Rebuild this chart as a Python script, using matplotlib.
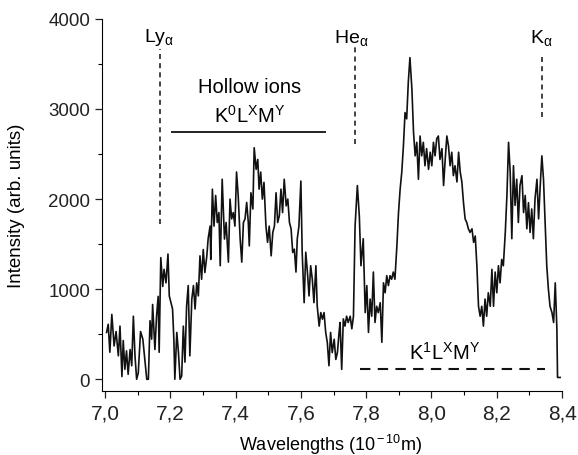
import matplotlib
matplotlib.use("Agg")
import matplotlib.pyplot as plt
from matplotlib.ticker import MultipleLocator, FuncFormatter

plt.rcParams["font.family"] = ["Liberation Sans", "DejaVu Sans"]
plt.rcParams["mathtext.fontset"] = "custom"
plt.rcParams["mathtext.rm"] = "Liberation Sans"
plt.rcParams["mathtext.it"] = "Liberation Sans:italic"

# measured spectrum: wavelength (1e-10 m) and intensity (arb. units)
wavelength = [
    7.005, 7.010, 7.015, 7.021, 7.028, 7.034, 7.041, 7.046, 7.052, 7.056,
    7.061, 7.066, 7.071, 7.077, 7.082, 7.087, 7.092, 7.097, 7.102, 7.109,
    7.116, 7.120, 7.128, 7.133, 7.138, 7.143, 7.146, 7.153, 7.158, 7.163,
    7.166, 7.171, 7.177, 7.181, 7.187, 7.193, 7.197, 7.202, 7.207, 7.211,
    7.214, 7.220, 7.225, 7.230,
    7.235, 7.240, 7.245, 7.250, 7.255, 7.260, 7.266, 7.271, 7.276, 7.281,
    7.286, 7.291, 7.296, 7.301, 7.306, 7.312, 7.316, 7.322, 7.324, 7.329,
    7.334, 7.339, 7.344, 7.349, 7.353, 7.359, 7.366, 7.371, 7.378, 7.383,
    7.388, 7.393, 7.398, 7.403, 7.408, 7.414, 7.419, 7.424, 7.429, 7.434,
    7.439, 7.442, 7.447, 7.453, 7.457, 7.463, 7.468, 7.472, 7.477, 7.482,
    7.487, 7.493, 7.498, 7.503, 7.509, 7.514, 7.519, 7.524, 7.529, 7.534,
    7.539, 7.544, 7.549, 7.555, 7.560, 7.565, 7.570, 7.575, 7.580, 7.585,
    7.589, 7.594, 7.600, 7.604, 7.610, 7.615, 7.620, 7.625, 7.630, 7.635,
    7.640, 7.646, 7.650, 7.656, 7.661, 7.666, 7.671, 7.676, 7.681, 7.686,
    7.691, 7.696, 7.702, 7.707, 7.712, 7.717,
    7.720, 7.725, 7.730, 7.735, 7.740, 7.745, 7.751, 7.756, 7.761, 7.766,
    7.773, 7.779, 7.784, 7.791, 7.797, 7.802, 7.807, 7.812, 7.817, 7.822,
    7.827, 7.832, 7.837, 7.843, 7.848, 7.853, 7.858, 7.863, 7.868, 7.873,
    7.878, 7.883, 7.888, 7.894, 7.899, 7.904, 7.909, 7.914, 7.919, 7.924,
    7.929, 7.934, 7.940, 7.945, 7.950, 7.955, 7.960, 7.965, 7.970, 7.975,
    7.980, 7.985, 7.991, 7.996, 8.001, 8.006, 8.011, 8.016, 8.021, 8.026,
    8.032, 8.037, 8.042, 8.047, 8.052, 8.057, 8.062, 8.067, 8.072, 8.078,
    8.083, 8.088, 8.093, 8.098, 8.103, 8.108, 8.113, 8.118, 8.124, 8.129,
    8.134, 8.139, 8.144, 8.149, 8.154, 8.159, 8.164, 8.169, 8.174, 8.180,
    8.185, 8.190, 8.195, 8.200, 8.205, 8.210, 8.215, 8.220, 8.226, 8.231,
    8.236, 8.241, 8.246, 8.251, 8.256, 8.261, 8.266, 8.271, 8.277, 8.282,
    8.287, 8.292, 8.297, 8.302, 8.307, 8.312, 8.317, 8.323, 8.328, 8.333,
    8.338, 8.343, 8.348, 8.353, 8.358, 8.363, 8.369, 8.374, 8.379, 8.384,
    8.386, 8.394,
]
intensity = [
    520, 610, 300, 720, 370, 530, 260, 590, 30, 430,
    110, 315, 55, 330, 150, 700, 260, 0, 70, 530,
    445, 300, 0, 0, 650, 445, 830, 330, 700, 920,
    300, 1350, 1030, 1220, 1070, 1390, 925, 850, 780, 445,
    0, 520, 300, 0,
    37, 590, 190, 810, 1040, 260, 890, 1040, 780, 1070,
    925, 1370, 1110, 1440, 1185, 1370, 1560, 1700, 1330, 2110,
    1700, 2040, 1740, 1850, 1260, 2220, 1556, 1740, 1300, 2000,
    1780, 1850, 1700, 2300, 2040, 1560, 1300, 1740, 1780, 1963,
    1740, 1480, 2070, 1890, 2570, 2330, 2440, 2110, 2300, 2000,
    2185, 1700, 1520, 1700, 1370, 1630, 1700, 2070, 1740, 1815,
    2110, 1850, 2220, 1925, 2000, 1740, 1670, 1407, 1444, 1190,
    1560, 1700, 2200, 1410, 850, 1410, 1190, 925, 1260, 1110,
    850, 1260, 815, 590, 740, 667, 740, 520, 407, 150,
    520, 296, 444, 220, 300, 520,
    630, 110, 670, 590, 700, 630, 700, 560, 700, 1700,
    2150, 1810, 1260, 1560, 740, 1040, 520, 890, 700, 1190,
    630, 810, 740, 850, 410, 1070, 960, 1150, 1040, 1150,
    1110, 1190, 1110, 1480, 1850, 2110, 2300, 2590, 2960, 2890,
    3300, 3570, 3220, 2740, 2480, 2630, 2220, 2700, 2480, 2630,
    2370, 2560, 2330, 2520, 2370, 2630, 2480, 2670, 2700, 2440,
    2560, 2150, 2440, 2700, 2590, 2370, 2520, 2260, 2370, 2190,
    2520, 2300, 2190, 1960, 1780, 1740, 1670, 1630, 1670, 1520,
    1590, 1260, 810, 700, 810, 590, 890, 700, 960, 810,
    1220, 810, 1190, 960, 1260, 1070, 1330, 1260, 1630, 2040,
    2630, 2300, 1560, 2370, 1930, 2220, 1740, 2150, 2260, 1850,
    2040, 1670, 1960, 1630, 1890, 1560, 2000, 2220, 1780, 2150,
    2480, 2220, 1740, 1260, 1000, 810, 740, 630, 1070, 560,
    20, 20,
]

# line positions and their labels
line_names = [r"Ly$_{\rm α}$", r"He$_{\rm α}$", r"K$_{\rm α}$"]
line_pos = [7.168, 7.766, 8.338]
line_top = [3670, 3690, 3610]
line_bottom = [1720, 2610, 2910]
label_x = [7.165, 7.755, 8.335]

fig = plt.figure(figsize=(5.78, 4.56), dpi=100)
ax = fig.add_axes([0.1765, 0.1404, 0.796, 0.816])

ax.plot(wavelength, intensity, color="#111111", lw=1.2)

for name, x, lx, top, bot in zip(line_names, line_pos, label_x, line_top, line_bottom):
    ax.plot([x, x], [bot, top], color="#222222", lw=1.2, ls=(0, (3, 2.5)))
    ax.text(lx, 3800, name, ha="center", va="center", fontsize=14)

# hollow ion band
ax.plot([7.205, 7.674], [2744, 2744], color="#222222", lw=1.4)
ax.text(7.444, 3250, "Hollow ions", ha="center", va="center", fontsize=14.5)
ax.text(7.444, 2935, r"K$^{\rm 0}$L$^{\rm X}$M$^{\rm Y}$", ha="center",
        va="center", fontsize=14.5)

# single K-vacancy band
ax.plot([7.781, 8.348], [111, 111], color="#111111", lw=1.5, ls=(0, (5, 3.5)))
ax.text(8.04, 300, r"K$^{\rm 1}$L$^{\rm X}$M$^{\rm Y}$", ha="center",
        va="center", fontsize=14.5)

ax.set_xlim(6.991, 8.40)
ax.set_ylim(-130, 4000)
ax.spines["top"].set_visible(False)
ax.spines["right"].set_visible(False)
ax.xaxis.set_major_locator(MultipleLocator(0.2))
ax.xaxis.set_minor_locator(MultipleLocator(0.1))
ax.yaxis.set_major_locator(MultipleLocator(1000))
ax.yaxis.set_minor_locator(MultipleLocator(500))
ax.xaxis.set_major_formatter(FuncFormatter(lambda v, p: f"{v:.1f}".replace(".", ",")))
ax.tick_params(which="major", direction="out", length=5, width=0.9,
               colors="#222222")
ax.tick_params(which="minor", direction="out", length=3, width=0.8)
ax.tick_params(axis="x", labelsize=15, pad=4)
ax.tick_params(axis="y", labelsize=13.5)
ax.set_xticks([7.0, 7.2, 7.4, 7.6, 7.8, 8.0, 8.2, 8.4])
ax.set_xlabel(r"Wavelengths (10$^{\rm -10}$m)", fontsize=13)
ax.set_ylabel("Intensity (arb. units)", fontsize=13.5)
ax.xaxis.set_label_coords(0.497, -0.11)
ax.yaxis.set_label_coords(-0.167, 0.5)

fig.savefig("out.png", dpi=100)
